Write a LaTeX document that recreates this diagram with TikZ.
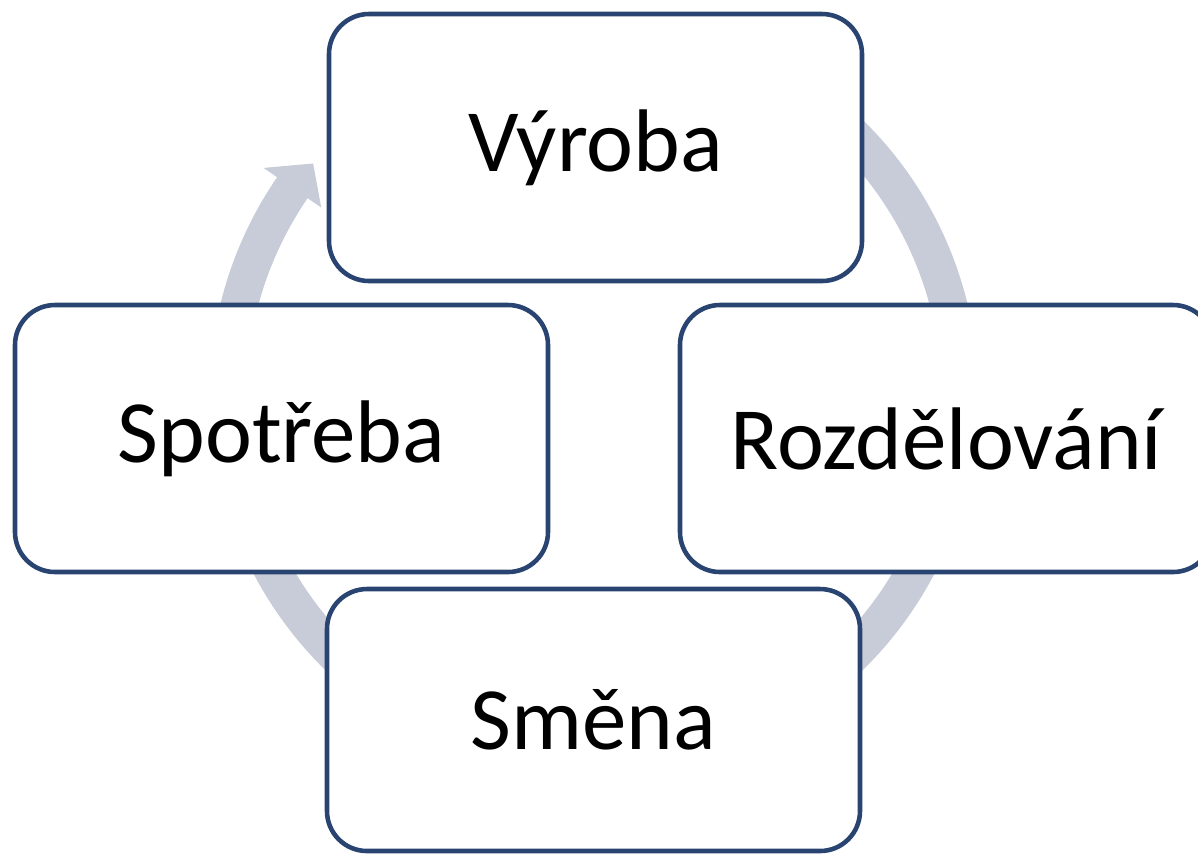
\documentclass[tikz,border=0pt]{standalone}
\usepackage{fontspec}
\setmainfont{Carlito}
\usepackage{xcolor}
\usepackage{tikz}
\usetikzlibrary{calc}

\definecolor{boxblue}{RGB}{41,68,112}
\definecolor{ringgray}{RGB}{200,204,216}

\tikzset{
  phase/.style = {draw=boxblue, line width=1.3pt, fill=white, rounded corners=0.4cm,
    minimum width=5.33cm, minimum height=2.67cm, inner sep=0pt, outer sep=0pt,
    font=\fontsize{25.3}{30}\selectfont},
  ring/.style = {ringgray, line width=0.37cm},
}

\begin{document}
\begin{tikzpicture}
\clip (0,0) rectangle (11.98,-8.53);
\fill[white] (0,0) rectangle (11.98,-8.53);

\coordinate (ringc) at (5.94,-3.95);
\draw [ring] ($(ringc)+(60:3.66)$) arc [start angle=60, end angle=-215, radius=3.66];
\fill [ringgray] ($(ringc)+(145.5:4.01)$) -- ($(ringc)+(140.5:3.64)$) -- ($(ringc)+(145.5:3.31)$) -- cycle;

\node[phase] (vyroba) at (5.955,-1.475) {Výroba};
\node[phase] (rozdel) at (9.465,-4.385) {Rozdělování};
\node[phase, minimum height=2.62cm] (smena) at (5.935,-7.20) {Směna};
\node[phase] (spotreba) at (2.815,-4.385) {Spotřeba};
\end{tikzpicture}
\end{document}
